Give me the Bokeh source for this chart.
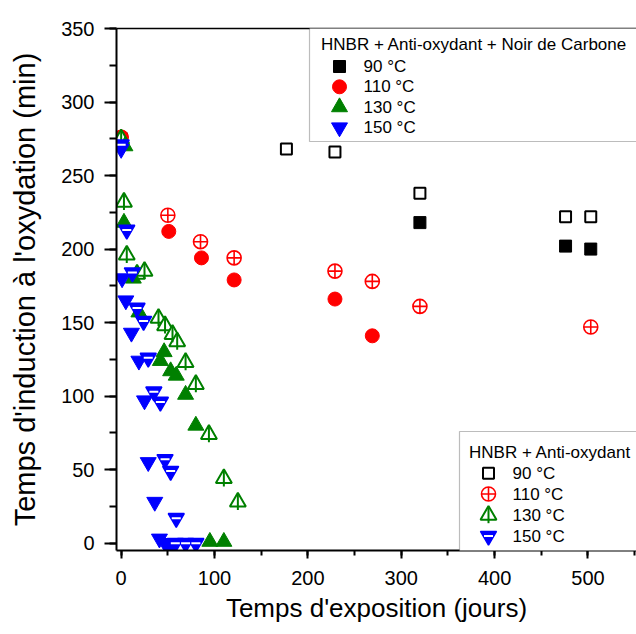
import math
from bokeh.plotting import figure
from bokeh.models import (Range1d, SingleIntervalTicker, FixedTicker, LinearAxis,
                          BoxAnnotation, Label)
from bokeh.embed import file_html
from bokeh.resources import INLINE

# ---- data (days, induction time in min) ----
# HNBR + Anti-oxydant + Noir de Carbone (filled markers)
c90_x = [0, 320, 476, 503]
c90_y = [275, 218, 202, 200]
c110_x = [0, 51, 86, 121, 229, 269]
c110_y = [276, 212, 194, 179, 166, 141]
c130_x = [4, 3, 13, 19, 42, 46, 53, 59, 69, 80, 95, 110]
c130_y = [270, 218, 180, 157, 124, 130, 117, 114, 101, 80, 1, 1]
c150_x = [0, 1, 5, 11, 19, 25, 29, 36, 41, 47, 51, 55]
c150_y = [268, 180, 165, 143, 124, 97, 55, 28, 3, 0, -1, -1]

# HNBR + Anti-oxydant (open markers)
a90_x = [0, 177, 229, 320, 476, 503]
a90_y = [275, 268, 266, 238, 222, 222]
a110_x = [0, 50, 85, 121, 229, 269, 320, 503]
a110_y = [276, 223, 205, 194, 185, 178, 161, 147]
a130_x = [0, 3, 6, 17, 25, 40, 47, 55, 60, 69, 80, 94, 110, 125]
a130_y = [275, 232, 196, 183, 185, 153, 148, 142, 137, 123, 108, 74, 44, 28]
a150_x = [0, 6, 12, 17, 24, 29, 35, 42, 47, 53, 59, 58, 69, 80]
a150_y = [271, 213, 184, 160, 151, 126, 103, 96, 57, 49, 17, 0, 0, 0]

temps = ["90 °C", "110 °C", "130 °C", "150 °C"]
title_carbon = "HNBR + Anti-oxydant + Noir de Carbone"
title_plain = "HNBR + Anti-oxydant"
FONT = "Liberation Sans"

FRAME_W, FRAME_H = 520, 522
p = figure(width=636, height=634, output_backend="svg", toolbar_location=None,
           x_range=Range1d(-5, 552), y_range=Range1d(-5, 350),
           min_border_left=116, min_border_right=0, min_border_top=28, min_border_bottom=84)
p.outline_line_color = None
p.xgrid.visible = False
p.ygrid.visible = False
p.background_fill_color = "white"
p.border_fill_color = "white"
# pixel-like helper ranges for the legend boxes (0,0 = top-left of the frame)
p.extra_x_ranges = {"px": Range1d(0, FRAME_W)}
p.extra_y_ranges = {"py": Range1d(FRAME_H, 0)}

xa = p.xaxis[0]
xa.ticker = SingleIntervalTicker(interval=100, num_minor_ticks=2)
xa.axis_label = "Temps d'exposition (jours)"
xa.major_tick_out = 8
xa.major_tick_in = 0
xa.minor_tick_out = 5
xa.minor_tick_in = 0
xa.major_label_standoff = 12
xa.axis_label_standoff = 5
xa.axis_label_text_font_size = "26px"

ya = p.yaxis[0]
ya.ticker = SingleIntervalTicker(interval=50, num_minor_ticks=2)
ya.axis_label = "Temps d'induction à l'oxydation (min)"
ya.major_tick_out = 12
ya.major_tick_in = 0
ya.minor_tick_out = 7
ya.minor_tick_in = 0
ya.major_label_standoff = 10
ya.axis_label_standoff = 17
ya.axis_label_text_font_size = "29px"

for ax in (xa, ya):
    ax.axis_line_width = 2
    ax.major_tick_line_width = 2
    ax.minor_tick_line_width = 2
    ax.major_label_text_font = FONT
    ax.major_label_text_font_size = "20px"
    ax.axis_label_text_font = FONT
    ax.axis_label_text_font_style = "normal"
    ax.major_label_text_color = "black"
    ax.axis_label_text_color = "black"

top = LinearAxis(ticker=FixedTicker(ticks=[]), major_tick_line_color=None,
                 minor_tick_line_color=None, major_tick_out=0, minor_tick_out=0,
                 axis_line_width=1.5)
p.add_layout(top, "above")

# ---- marker styles ----
STY = {
    "c90": dict(marker="square", size=12, fill_color="black", line_color="black"),
    "a90": dict(marker="square", size=11, fill_color="white", line_color="black", line_width=2),
    "c110": dict(marker="circle", size=14, fill_color="red", line_color="red"),
    "a110": dict(marker="circle_cross", size=14, fill_color="white", line_color="red", line_width=1.6),
    "c130": dict(marker="triangle", size=16, fill_color="green", line_color="green"),
    "a130": dict(marker="triangle", size=16, fill_color="white", line_color="green", line_width=2),
    "a130b": dict(marker="dash", angle=math.pi / 2, size=16, line_color="green", line_width=2),
    "c150": dict(marker="inverted_triangle", size=16, fill_color="blue", line_color="blue"),
    "a150": dict(marker="inverted_triangle", size=16, fill_color="blue", line_color="blue", line_width=1.5),
    "a150b": dict(marker="dash", size=9, line_color="white", line_width=2),
}

p.scatter(a90_x, a90_y, **STY["a90"])
p.scatter(c90_x, c90_y, **STY["c90"])
p.scatter(a110_x, a110_y, **STY["a110"])
p.scatter(c110_x, c110_y, **STY["c110"])
p.scatter(a130_x, a130_y, **STY["a130"])
p.scatter(a130_x, a130_y, **STY["a130b"])
p.scatter(c130_x, c130_y, **STY["c130"])
p.scatter(c150_x, c150_y, **STY["c150"])
p.scatter(a150_x, a150_y, **STY["a150"])
p.scatter(a150_x, a150_y, **STY["a150b"])


# ---- legends (drawn as framed boxes in frame-pixel space) ----
def legend_box(left, top_, bottom, title, title_x, title_y, key_x, key_ys, label_x, keys):
    p.add_layout(BoxAnnotation(left=left, right=FRAME_W + 20, top=top_, bottom=bottom,
                               x_range_name="px", y_range_name="py",
                               fill_color="white", fill_alpha=1,
                               line_color="#222222", line_width=1.2, level="annotation"))
    p.add_layout(Label(x=title_x, y=title_y, text=title, x_range_name="px", y_range_name="py",
                       text_font=FONT, text_font_size="17px", text_color="black",
                       text_baseline="middle", text_align="left"))
    for ky, lab, names in zip(key_ys, temps, keys):
        for nm in names:
            p.scatter([key_x], [ky], x_range_name="px", y_range_name="py",
                      level="overlay", **STY[nm])
        p.add_layout(Label(x=label_x, y=ky, text=lab, x_range_name="px", y_range_name="py",
                           text_font=FONT, text_font_size="17px", text_color="black",
                           text_baseline="middle", text_align="left"))


legend_box(193, -1, 113, title_carbon, 204.5, 15.5, 223, [38, 58.3, 78.6, 99], 247,
           [["c90"], ["c110"], ["c130"], ["c150"]])
legend_box(343, 403, 523, title_plain, 352.5, 423.7, 372, [444.7, 465.5, 486.7, 507.5], 396,
           [["a90"], ["a110"], ["a130", "a130b"], ["a150", "a150b"]])

open("out.html", "w").write(file_html(p, INLINE))
